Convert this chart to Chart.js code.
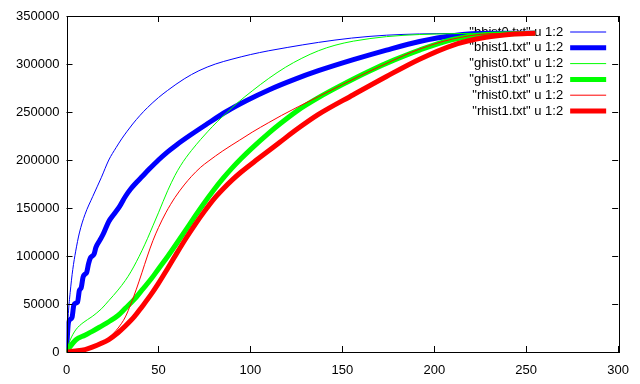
<!DOCTYPE html>
<html>
<head>
<meta charset="utf-8">
<script src="https://cdn.jsdelivr.net/npm/chart.js@4/dist/chart.umd.min.js"></script>
<style>
  html, body { margin: 0; padding: 0; background: #fff; }
  #wrap { width: 640px; height: 384px; }
</style>
</head>
<body>
<div id="wrap"><canvas id="histChart"></canvas></div>
<script>
// cumulative histograms
const bhist0X = [0, 1, 2, 3.4, 5, 7, 10, 14.3, 19, 23, 27, 30, 33, 36, 40, 44, 50, 55, 64, 72, 81, 90, 100, 110, 120, 137, 155, 174, 192, 210, 230, 255];
const bhist0Y = [0, 40000, 62000, 85800, 105000, 124000, 143000, 162100, 182000, 200000, 213000, 222000, 230000, 237500, 246500, 254500, 265000, 272500, 284500, 293000, 300000, 305000, 309800, 313800, 317200, 322500, 327000, 330000, 331300, 331800, 332000, 332000];

const bhist1X = [0, 1, 2, 3, 4, 5, 6, 7, 8, 9, 10, 11, 12, 13, 14, 15, 16, 18, 20, 23, 26, 29, 32, 35, 38, 41, 45, 50, 55, 60, 67, 76, 87, 98, 110, 124, 137, 156, 174, 192, 210, 230, 255];
const bhist1Y = [0, 30000, 34000, 36000, 49000, 51000, 52000, 64000, 67000, 78000, 81000, 83000, 92000, 98000, 100000, 102000, 109000, 116000, 123000, 136000, 144000, 152000, 162000, 170000, 176500, 182500, 190500, 200000, 208500, 216000, 225500, 237000, 250500, 262000, 273000, 284000, 293000, 304500, 314500, 323500, 329500, 332000, 332000];

const ghist0X = [0, 1, 2, 5, 9, 14, 19, 23, 28, 32, 35, 38, 41, 44, 47, 50, 55, 59, 62, 65, 68, 73, 77, 82, 87, 93, 101, 110, 119, 128, 137, 146, 156, 174, 192, 210, 230, 255];
const ghist0Y = [0, 7000, 12500, 23000, 30500, 37000, 45000, 53500, 64500, 74500, 83500, 94000, 105500, 118000, 131500, 145000, 168000, 184000, 194000, 202500, 210000, 221500, 230000, 240000, 249000, 259500, 272000, 285000, 296500, 306000, 313800, 319500, 323800, 328500, 330700, 331600, 332000, 332000];

const ghist1X = [0, 1, 5, 10, 14, 19, 23, 28, 32, 37, 41, 46, 50, 55, 60, 65, 70, 75, 80, 85, 90, 95, 100, 110, 117, 126, 137, 150, 164, 178, 192, 210, 228, 255];
const ghist1Y = [0, 3000, 12500, 17500, 21500, 27000, 31500, 38000, 45500, 55000, 64500, 76000, 86500, 99500, 113300, 127500, 141700, 155500, 168500, 180500, 191500, 201500, 210800, 228000, 239000, 252000, 265000, 278500, 292000, 304000, 314500, 325500, 330800, 332000];

const rhist0X = [0, 5, 10, 15, 19, 23, 27, 30, 32, 35, 38, 41, 44, 47, 50, 54, 59, 64, 68, 73, 77, 85, 94, 101, 110, 117, 126, 137, 150, 160, 175, 192, 210, 230, 255];
const rhist0Y = [0, 1000, 2500, 4500, 8000, 14500, 22500, 30000, 36500, 50000, 65500, 82500, 100000, 116000, 129500, 145000, 161000, 174000, 183000, 192500, 198500, 209500, 220500, 229000, 239000, 246500, 255500, 266000, 278500, 288000, 301500, 315500, 326000, 331500, 332000];

const rhist1X = [0, 5, 10, 14, 19, 23, 28, 32, 37, 41, 46, 50, 55, 60, 65, 70, 75, 80, 85, 90, 95, 104, 116, 126, 137, 156, 174, 192, 210, 228, 242, 255];
const rhist1Y = [0, 1000, 2500, 5000, 9000, 13000, 20000, 27000, 37000, 47000, 60000, 71500, 87000, 103000, 118500, 133000, 146500, 159000, 169500, 179000, 187500, 201000, 218500, 233000, 247500, 268000, 287000, 305000, 319500, 327800, 331000, 332000];

const xTicks = [0, 50, 100, 150, 200, 250, 300];
const yTicks = [0, 50000, 100000, 150000, 200000, 250000, 300000, 350000];

const seriesLabels = ['"bhist0.txt" u 1:2', '"bhist1.txt" u 1:2', '"ghist0.txt" u 1:2', '"ghist1.txt" u 1:2', '"rhist0.txt" u 1:2', '"rhist1.txt" u 1:2'];

const FONT = '"Liberation Sans", Arial, sans-serif';
Chart.defaults.font.family = FONT;
Chart.defaults.font.size = 13;
Chart.defaults.color = '#000';

function pts(xs, ys) {
    return xs.map((x, i) => ({ x: x, y: ys[i] }));
}

const series = [
    { xs: bhist0X, ys: bhist0Y, color: '#0000ff', width: 1 },
    { xs: bhist1X, ys: bhist1Y, color: '#0000ff', width: 5 },
    { xs: ghist0X, ys: ghist0Y, color: '#00ff00', width: 1 },
    { xs: ghist1X, ys: ghist1Y, color: '#00ff00', width: 5 },
    { xs: rhist0X, ys: rhist0Y, color: '#ff0000', width: 1 },
    { xs: rhist1X, ys: rhist1Y, color: '#ff0000', width: 5 }
];

// gnuplot style frame with inward ticks on all four sides
const framePlugin = {
    id: 'frame',
    afterDraw(chart) {
        const ctx = chart.ctx;
        const a = chart.chartArea;
        const xs = chart.scales.x, ys = chart.scales.y;
        ctx.save();
        ctx.strokeStyle = '#000';
        ctx.lineWidth = 1;
        ctx.strokeRect(Math.round(a.left) + 0.5, Math.round(a.top) + 0.5, Math.round(a.right - a.left), Math.round(a.bottom - a.top));
        ctx.beginPath();
        xs.ticks.forEach(t => {
            const px = Math.round(xs.getPixelForValue(t.value)) + 0.5;
            ctx.moveTo(px, a.bottom); ctx.lineTo(px, a.bottom - 6);
            ctx.moveTo(px, a.top); ctx.lineTo(px, a.top + 6);
        });
        ys.ticks.forEach(t => {
            const py = Math.round(ys.getPixelForValue(t.value)) + 0.5;
            ctx.moveTo(a.left, py); ctx.lineTo(a.left + 6, py);
            ctx.moveTo(a.right, py); ctx.lineTo(a.right - 6, py);
        });
        ctx.stroke();
        ctx.restore();
    }
};

// key in the top right corner: text right aligned, sample line after it
const keyPlugin = {
    id: 'key',
    beforeDatasetsDraw(chart) {
        const ctx = chart.ctx;
        const a = chart.chartArea;
        ctx.save();
        ctx.font = '13px ' + FONT;
        ctx.textAlign = 'right';
        ctx.textBaseline = 'middle';
        chart.data.datasets.forEach((ds, i) => {
            const y = a.top + 16 + i * 15.8;
            ctx.fillStyle = '#000';
            ctx.fillText(ds.label, a.right - 55, y);
            ctx.strokeStyle = ds.borderColor;
            ctx.lineWidth = ds.borderWidth;
            ctx.beginPath();
            ctx.moveTo(a.right - 48, y);
            ctx.lineTo(a.right - 12, y);
            ctx.stroke();
        });
        ctx.restore();
    }
};

const ctx = document.getElementById('histChart').getContext('2d');
new Chart(ctx, {
    type: 'line',
    data: {
        datasets: series.map((s, i) => ({
            label: seriesLabels[i],
            data: pts(s.xs, s.ys),
            borderColor: s.color,
            backgroundColor: s.color,
            borderWidth: s.width,
            pointRadius: 0,
            fill: false,
            cubicInterpolationMode: 'monotone',
            order: series.length - 1 - i
        }))
    },
    options: {
        responsive: true,
        maintainAspectRatio: false,
        animation: false,
        layout: {
            padding: { top: 16, right: 21, left: 0, bottom: 0 }
        },
        plugins: {
            legend: { display: false },
            tooltip: { enabled: false }
        },
        scales: {
            x: {
                type: 'linear',
                min: 0,
                max: 300,
                afterBuildTicks: s => { s.ticks = xTicks.map(v => ({ value: v })); },
                afterFit: s => { s.height = 32; },
                grid: { display: false, drawTicks: false },
                border: { display: false },
                ticks: {
                    padding: 11,
                    maxRotation: 0,
                    callback: v => String(v)
                }
            },
            y: {
                min: 0,
                max: 350000,
                afterBuildTicks: s => { s.ticks = yTicks.map(v => ({ value: v })); },
                afterFit: s => { s.width = 66.5; },
                grid: { display: false, drawTicks: false },
                border: { display: false },
                ticks: {
                    padding: 7,
                    callback: v => String(v)
                }
            }
        }
    },
    plugins: [keyPlugin, framePlugin]
});
</script>
</body>
</html>
